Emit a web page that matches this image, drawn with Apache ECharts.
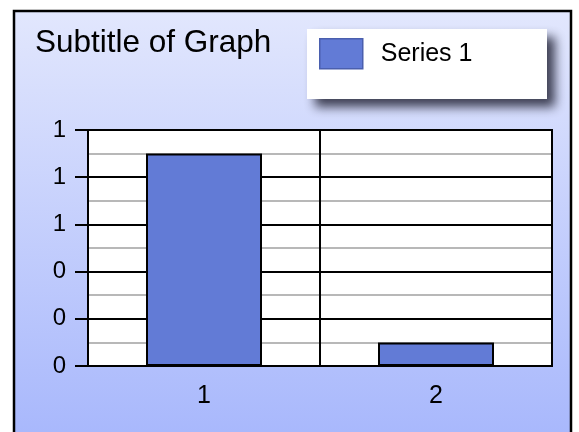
<!DOCTYPE html>
<html>
<head>
<meta charset="utf-8">
<script src="https://cdn.jsdelivr.net/npm/echarts@6/dist/echarts.min.js"></script>
<style>html,body{margin:0;padding:0;background:#fff;}#c{width:579px;height:432px;}</style>
</head>
<body>
<div id="c"></div>
<script>
const categories = ['1', '2'];
const seriesName = 'Series 1';
const seriesValues = [0.9, 0.1];
const yTickLabels = ['0', '0', '0', '1', '1', '1'];
const titleText = 'Subtitle of Graph';

const FONT = '"Liberation Sans", Arial, Helvetica, sans-serif';
const chart = echarts.init(document.getElementById('c'), null, {renderer: 'canvas'});
chart.setOption({
  animation: false,
  backgroundColor: '#fff',
  graphic: [
    {
      type: 'rect', z: -10,
      shape: {x: 14, y: 11, width: 557, height: 440},
      style: {
        fill: new echarts.graphic.LinearGradient(0, 0, 0, 1, [
          {offset: 0, color: '#e2e7fd'},
          {offset: 1, color: '#a6b6fc'}
        ]),
        stroke: '#000', lineWidth: 2.5
      }
    },
    {
      type: 'rect', z: 3,
      shape: {x: 307, y: 29, width: 240, height: 70},
      style: {
        fill: '#fff',
        shadowBlur: 10, shadowOffsetX: 8, shadowOffsetY: 8,
        shadowColor: 'rgba(45,47,65,0.9)'
      }
    }
  ],
  title: {
    text: titleText, left: 35, top: 27, padding: 0,
    textStyle: {fontFamily: FONT, fontSize: 31.5, fontWeight: 'normal', color: '#000'}
  },
  legend: {
    left: 319, top: 38, padding: 0,
    itemWidth: 43, itemHeight: 30,
    icon: 'rect',
    data: [seriesName],
    itemStyle: {borderColor: '#4a5fae', borderWidth: 1.5},
    textStyle: {fontFamily: FONT, fontSize: 25, color: '#000', padding: [0, 0, 0, 13]}
  },
  grid: {
    left: 88, top: 130, right: 27, bottom: 66,
    show: true, backgroundColor: '#fff', borderColor: '#000', borderWidth: 2,
    containLabel: false
  },
  xAxis: {
    type: 'category', data: categories,
    axisLine: {show: true, lineStyle: {color: '#000', width: 2}},
    axisTick: {show: false},
    splitLine: {show: true, lineStyle: {color: '#000', width: 2}},
    axisLabel: {fontFamily: FONT, fontSize: 25, color: '#000', margin: 18}
  },
  yAxis: {
    type: 'value', min: 0, max: 1, interval: 0.2,
    axisLine: {show: true, lineStyle: {color: '#000', width: 2}},
    axisTick: {show: true, length: 13, lineStyle: {color: '#000', width: 2}},
    splitLine: {show: true, lineStyle: {color: '#000', width: 2}},
    minorTick: {show: false, splitNumber: 2},
    minorSplitLine: {show: true, lineStyle: {color: '#b8b8b8', width: 2}},
    axisLabel: {
      fontFamily: FONT, fontSize: 24, color: '#000', margin: 22,
      formatter: function (v) { return yTickLabels[Math.round(v / 0.2)]; }
    }
  },
  series: [{
    type: 'bar', name: seriesName, data: seriesValues,
    barWidth: '50%',
    itemStyle: {color: '#627bd6', borderColor: '#000', borderWidth: 2}
  }]
});
</script>
</body>
</html>
